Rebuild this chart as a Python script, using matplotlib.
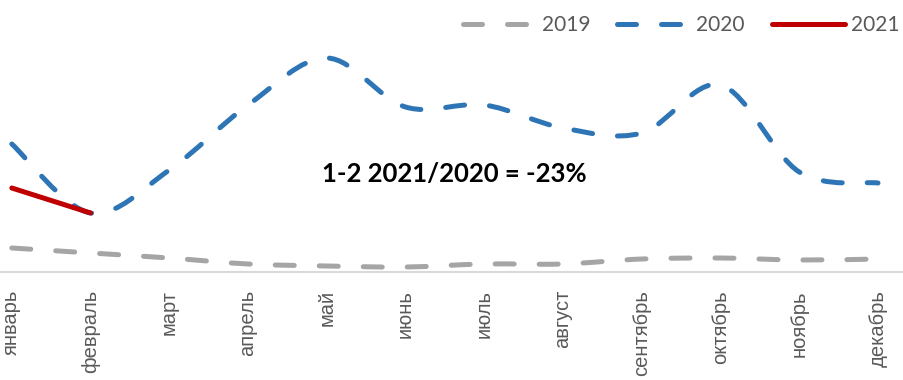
import matplotlib
matplotlib.use("Agg")
import matplotlib.pyplot as plt
from matplotlib.path import Path
from matplotlib.patches import PathPatch
from matplotlib.lines import Line2D
import numpy as np

months = ["январь", "февраль", "март", "апрель", "май", "июнь",
          "июль", "август", "сентябрь", "октябрь", "ноябрь", "декабрь"]
y2019 = [24, 19, 14, 8, 6, 5, 8, 8, 13, 14, 12, 13]
y2020 = [128, 59, 102, 167, 214, 165, 167, 144, 139, 187, 100, 89]
y2021 = [84, 59]
note = "1-2 2021/2020 = -23%"

def smooth_path(xs, ys):
    # Excel-like smoothed line: Catmull-Rom converted to cubic Bezier segments
    pts = np.column_stack([xs, ys]).astype(float)
    n = len(pts)
    verts = [pts[0]]
    codes = [Path.MOVETO]
    for i in range(n - 1):
        p0 = pts[i - 1] if i > 0 else pts[i]
        p1 = pts[i]
        p2 = pts[i + 1]
        p3 = pts[i + 2] if i + 2 < n else pts[i + 1]
        c1 = p1 + (p2 - p0) / 6.0
        c2 = p2 - (p3 - p1) / 6.0
        verts += [c1, c2, p2]
        codes += [Path.CURVE4] * 3
    return Path(verts, codes)

fig = plt.figure(figsize=(9.04, 3.8), dpi=100)
ax = fig.add_axes([0, 108 / 380, 1, 252 / 380])
x = np.arange(len(months))

LW = 3.6
dash = (0, (3.8, 5.0))
series = [
    (y2019, "#A5A5A5", dash, "2019"),
    (y2020, "#2E75B6", dash, "2020"),
    (y2021, "#C00000", "solid", "2021"),
]
handles = []
for ys, c, ls, lab in series:
    xs = x[:len(ys)]
    p = PathPatch(smooth_path(xs, ys), fill=False, edgecolor=c, lw=LW,
                  linestyle=ls, capstyle="round", joinstyle="round")
    ax.add_patch(p)
    handles.append(Line2D([], [], color=c, lw=LW, linestyle=ls,
                          solid_capstyle="round", dash_capstyle="round", label=lab))

ax.set_xlim(-0.15, 11.33)
ax.set_ylim(0, 252)
for s in ["left", "right", "top"]:
    ax.spines[s].set_visible(False)
ax.spines["bottom"].set_color("#D9D9D9")
ax.spines["bottom"].set_linewidth(1.5)
ax.set_yticks([])
ax.set_xticks(x)
ax.set_xticklabels(months, rotation=90, fontsize=14.5, color="#595959",
                   family=["Liberation Sans", "DejaVu Sans"])
ax.tick_params(axis="x", length=0, pad=13)

ax.text(5.62, 98, note, ha="center", va="center", fontsize=18.5,
        fontweight="bold", family=["Lato", "DejaVu Sans"], color="black")

leg = fig.legend(handles=handles, loc="upper right", bbox_to_anchor=(1.016, 1.01),
                 ncol=3, frameon=False, handlelength=3.5, columnspacing=1.3,
                 handletextpad=0.3, prop={"family": ["Lato", "DejaVu Sans"], "size": 15})
for t in leg.get_texts():
    t.set_color("#595959")

fig.savefig("out.png", dpi=100)
